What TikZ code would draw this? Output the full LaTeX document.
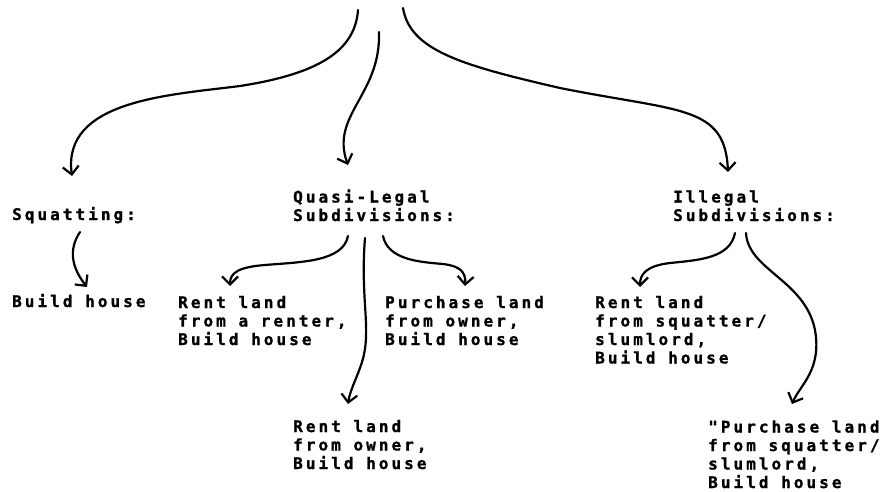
\documentclass[tikz,border=0pt]{standalone}
\usepackage{fontspec}
\usetikzlibrary{arrows.meta}
\newfontfamily\termfont{DejaVu Sans Mono Bold}[LetterSpace=19,FakeBold=1.2]

\tikzset{
  x=1pt, y=-1pt,
  % nodes are placed at the baseline of their last line
  label text/.style={anchor=base west, inner sep=0pt, align=left,
    font=\termfont\fontsize{16}{18.5}\selectfont},
  branch/.style={line width=2.2pt, line cap=round, line join=round,
    -{Straight Barb[length=8pt,width=16pt,line width=2.2pt]}},
}

\begin{document}
\begin{tikzpicture}
\useasboundingbox (0,0) rectangle (894,492);

% first level
\node[label text] (squat) at (12,220) {Squatting:};
\node[label text] (quasi) at (293,221) {Quasi-Legal\\Subdivisions:};
\node[label text] (illegal) at (673,221) {Illegal\\Subdivisions:};

% second level
\node[label text] (build) at (12,307) {Build house};
\node[label text] (rentr) at (178,345) {Rent land\\from a renter,\\Build house};
\node[label text] (purchown) at (385,345) {Purchase land\\from owner,\\Build house};
\node[label text] (rentown) at (293,469) {Rent land\\from owner,\\Build house};
\node[label text] (rentsq) at (595,363.5) {Rent land\\from squatter/\\slumlord,\\Build house};
\node[label text] (purchsq) at (708,488) {"Purchase land\\from squatter/\\slumlord,\\Build house};

% connector ends
\coordinate (top1) at (358,10);
\coordinate (top2) at (379,32);
\coordinate (top3) at (403,8);
\coordinate (tipsquat) at (72,176);
\coordinate (tipquasi) at (348,165);
\coordinate (tipillegal) at (728,172);

\coordinate (squatout) at (80,232);
\coordinate (tipbuild) at (87,287);
\coordinate (quasiout1) at (348,236);
\coordinate (quasiout2) at (365,238);
\coordinate (quasiout3) at (383,236);
\coordinate (tiprentr) at (230,286);
\coordinate (tiprentown) at (348,404);
\coordinate (tippurchown) at (465,286);
\coordinate (illout1) at (735,233);
\coordinate (illout2) at (746,233);
\coordinate (tiprentsq) at (640,287);
\coordinate (tippurchsq) at (792,404);

% top branches
\draw[branch] (top1) .. controls (355,55) and (310,75) .. (240,86)
  .. controls (170,95) and (62,100) .. (tipsquat);
\draw[branch] (top2) .. controls (381,95) and (330,115) .. (tipquasi);
\draw[branch] (top3) .. controls (410,50) and (460,65) .. (560,88)
  .. controls (680,112) and (725,105) .. (tipillegal);

% squatting
\draw[branch] (squatout) .. controls (68,250) and (72,268) .. (tipbuild);

% quasi-legal subdivisions
\draw[branch] (quasiout1) .. controls (343,262) and (300,262) .. (265,265)
  .. controls (240,267) and (230,272) .. (tiprentr);
\draw[branch] (quasiout2) .. controls (360,300) and (372,330) .. (362,362)
  .. controls (357,378) and (350,390) .. (tiprentown);
\draw[branch] (quasiout3) .. controls (388,260) and (420,262) .. (443,264)
  .. controls (460,266) and (466,272) .. (tippurchown);

% illegal subdivisions
\draw[branch] (illout1) .. controls (730,258) and (700,260) .. (670,263)
  .. controls (645,266) and (640,275) .. (tiprentsq);
\draw[branch] (illout2) .. controls (748,270) and (805,280) .. (815,330)
  .. controls (822,370) and (800,385) .. (tippurchsq);
\end{tikzpicture}
\end{document}
